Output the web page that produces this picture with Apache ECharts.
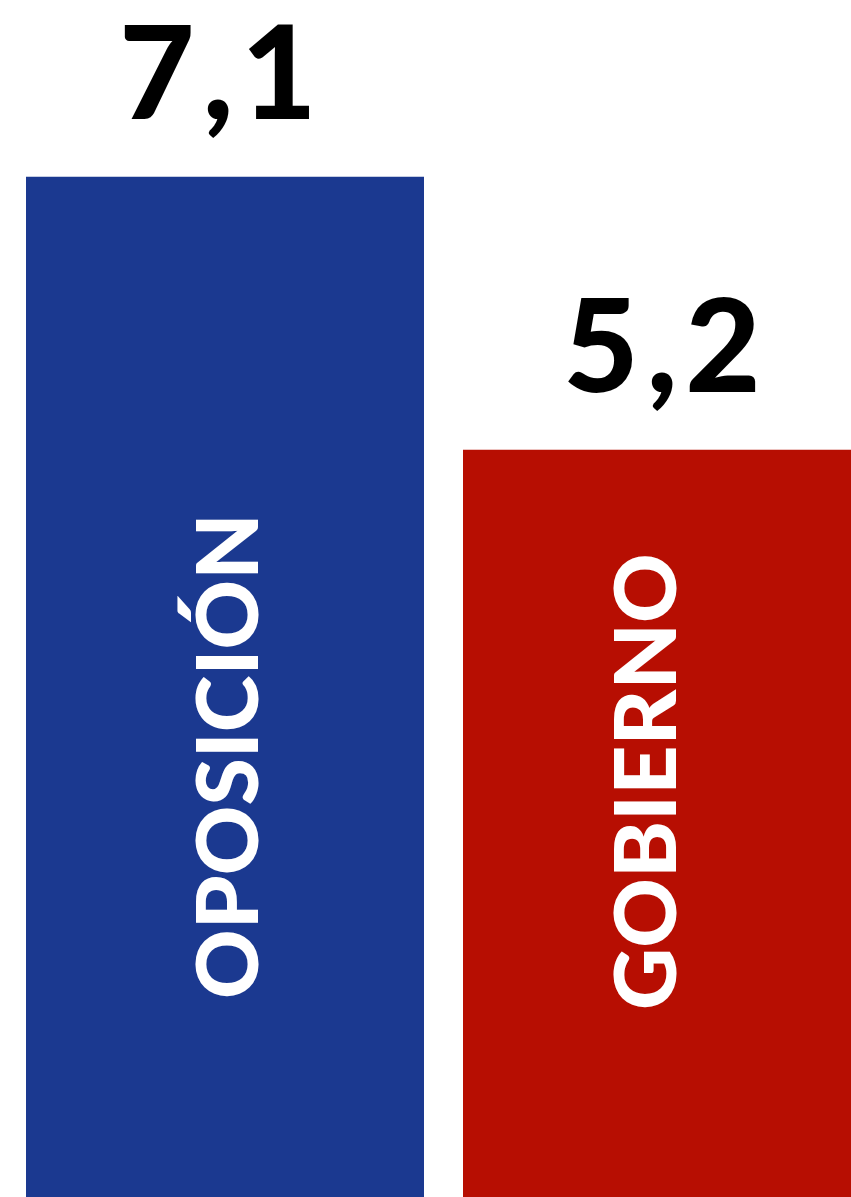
<!DOCTYPE html>
<html><head><meta charset="utf-8">
<script src="https://cdn.jsdelivr.net/npm/echarts@6/dist/echarts.min.js"></script>
<style>html,body{margin:0;padding:0;background:#fff}#c{width:851px;height:1197px}</style>
</head><body><div id="c"></div>
<script>
const categories = ['OPOSICIÓN', 'GOBIERNO'];
const values = [7.1, 5.2];
const colors = ['#1b3990', '#b70e02'];

const chart = echarts.init(document.getElementById('c'), null, {renderer: 'canvas'});
// label offsets are in the rotated frame: [along text (up), across (right)]
const nameOffsets = [[198, 5], [187, -14]];
const valueOffsets = [[-7, 0], [0, 0]];
const txt = {fontFamily: 'Lato', fontWeight: 900, fontSize: 130, color: '#000', lineHeight: 130};
chart.setOption({
  animation: false,
  grid: {left: 6.5, width: 874, top: 0, bottom: 0, containLabel: false, outerBoundsMode: 'none'},
  xAxis: {type: 'category', data: categories, show: false},
  yAxis: {type: 'value', min: 0, max: 8.33, show: false},
  series: [
    {
      type: 'bar', barWidth: 398,
      data: values.map((v, i) => ({value: v, itemStyle: {color: colors[i]}, label: {offset: valueOffsets[i]}})),
      label: {
        show: true, position: 'top', distance: 35,
        formatter: p => String(p.value).split('').map(ch => ch === '.' ? '{c|,}' : '{d|' + ch + '}').join(''),
        rich: {
          d: Object.assign({width: 76, align: 'center'}, txt),
          c: Object.assign({width: 46, align: 'center'}, txt)
        }
      }
    },
    {
      type: 'bar', barWidth: 398, barGap: '-100%',
      data: values.map((v, i) => ({value: v, label: {offset: nameOffsets[i]}})),
      itemStyle: {color: 'rgba(0,0,0,0)'},
      label: {
        show: true, position: ['50%', '100%'], rotate: 90, align: 'left', verticalAlign: 'middle',
        fontFamily: 'Lato', fontWeight: 900, fontSize: 86, color: '#fff',
        formatter: p => p.name
      }
    }
  ]
});
</script></body></html>
